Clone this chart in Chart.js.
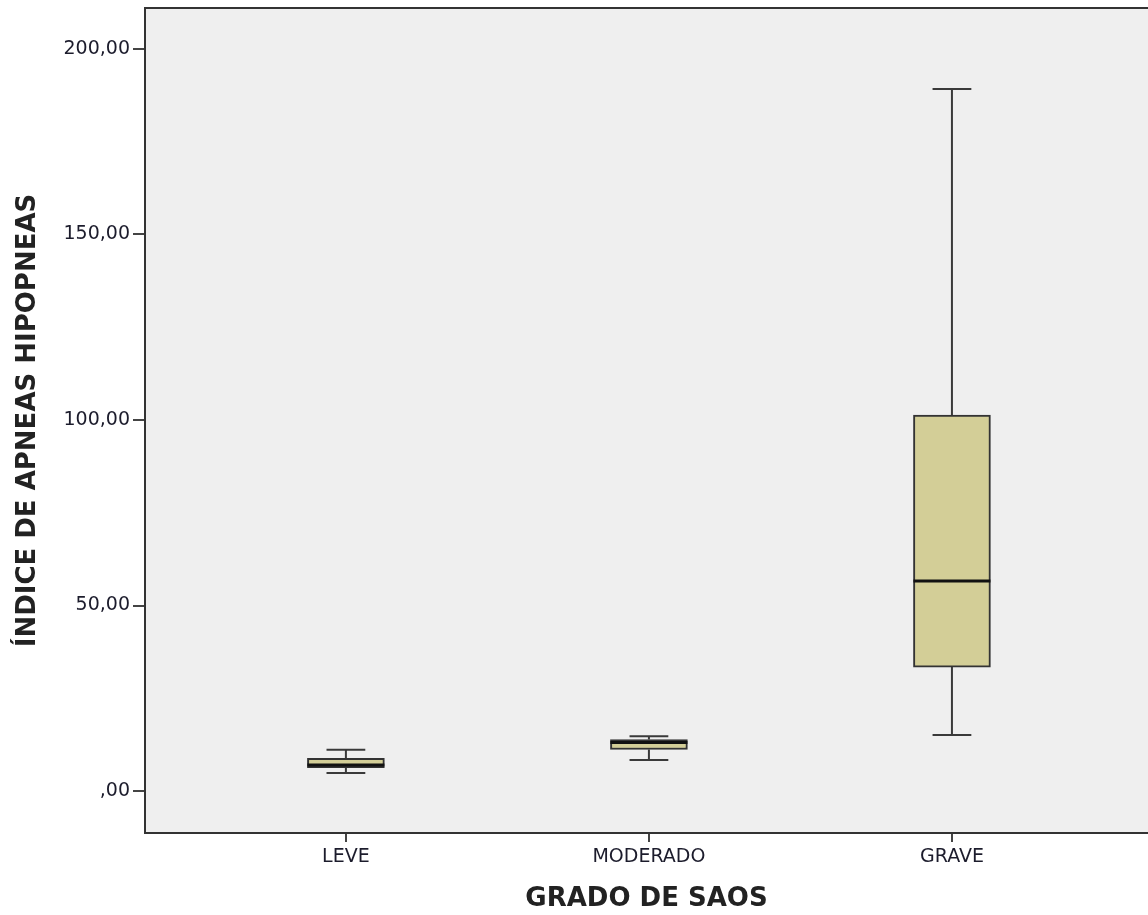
<!DOCTYPE html>
<html>
<head>
<meta charset="utf-8">
<script src="https://cdn.jsdelivr.net/npm/chart.js@4.4.0/dist/chart.umd.min.js"></script>
<style>
  html, body { margin: 0; padding: 0; background: #fff; }
  canvas { display: block; }
</style>
</head>
<body>
<canvas id="boxChart" width="1148" height="915"></canvas>
<script>
// values
const categories = ["LEVE", "MODERADO", "GRAVE"];
const whiskerMin = [4.9, 8.4, 15.1];
const q1 = [6.3, 11.2, 33.4];
const median = [7.0, 13.1, 56.6];
const q3 = [8.8, 13.9, 101.3];
const whiskerMax = [11.1, 14.8, 189.2];
const yTicks = [0, 50, 100, 150, 200];

const capHalf = 0.064;
const boxHalf = 0.127;

// Build segments for whiskers, caps and medians (null points break the line)
const whiskerPts = [];
const medianPts = [];
categories.forEach((c, i) => {
    const x = i + 1;
    whiskerPts.push({ x: x, y: q3[i] }, { x: x, y: whiskerMax[i] }, { x: x, y: null });
    whiskerPts.push({ x: x - capHalf, y: whiskerMax[i] }, { x: x + capHalf, y: whiskerMax[i] }, { x: x, y: null });
    whiskerPts.push({ x: x, y: q1[i] }, { x: x, y: whiskerMin[i] }, { x: x, y: null });
    whiskerPts.push({ x: x - capHalf, y: whiskerMin[i] }, { x: x + capHalf, y: whiskerMin[i] }, { x: x, y: null });
    medianPts.push({ x: x - boxHalf, y: median[i] }, { x: x + boxHalf, y: median[i] }, { x: x, y: null });
});

const boxes = categories.map((c, i) => ({ x: i + 1, y: [q1[i], q3[i]] }));

// Grey plot background + top frame line
const plotBg = {
    id: "plotBg",
    beforeDraw(chart) {
        const { ctx, chartArea } = chart;
        ctx.save();
        ctx.fillStyle = "#efefef";
        ctx.fillRect(chartArea.left, chartArea.top, chartArea.right - chartArea.left, chartArea.bottom - chartArea.top);
        ctx.strokeStyle = "#333";
        ctx.lineWidth = 2;
        ctx.beginPath();
        ctx.moveTo(chartArea.left, chartArea.top);
        ctx.lineTo(chartArea.right, chartArea.top);
        ctx.stroke();
        ctx.restore();
    }
};

function formatTick(v) {
    if (v === 0) return ",00";
    return v.toFixed(2).replace(".", ",");
}

new Chart(document.getElementById("boxChart"), {
    data: {
        datasets: [
            {
                type: "line",
                data: whiskerPts,
                borderColor: "#3a3a3a",
                borderWidth: 2,
                pointRadius: 0,
                spanGaps: false,
                order: 2
            },
            {
                type: "bar",
                data: boxes,
                backgroundColor: "#d3ce97",
                borderColor: "#333",
                borderWidth: 2,
                borderSkipped: false,
                barThickness: 77,
                order: 1
            },
            {
                type: "line",
                data: medianPts,
                borderColor: "#111",
                borderWidth: 3,
                pointRadius: 0,
                spanGaps: false,
                order: 0
            }
        ]
    },
    options: {
        responsive: false,
        animation: false,
        layout: { padding: { top: 8, right: 0, left: 0, bottom: 0 } },
        plugins: {
            legend: { display: false },
            tooltip: { enabled: false }
        },
        scales: {
            x: {
                type: "linear",
                offset: false,
                min: 0.337,
                max: 3.647,
                afterBuildTicks: (scale) => { scale.ticks = categories.map((c, i) => ({ value: i + 1 })); },
                afterFit: (scale) => { scale.height = 82; scale.paddingLeft = 0; scale.paddingRight = 0; },
                grid: { offset: false, drawOnChartArea: false, drawTicks: true, tickLength: 9, color: "#444", lineWidth: 2 },
                border: { display: true, color: "#333", width: 2 },
                ticks: {
                    color: "#1c1c2c",
                    font: { family: "DejaVu Sans", size: 19 },
                    padding: 4,
                    maxRotation: 0,
                    callback: (v) => categories[v - 1]
                },
                title: {
                    display: true,
                    text: "GRADO DE SAOS",
                    color: "#222",
                    font: { family: "DejaVu Sans", size: 26, weight: "bold" },
                    padding: { top: 0, bottom: 0 }
                }
            },
            y: {
                min: -11.3,
                max: 211,
                afterBuildTicks: (scale) => { scale.ticks = yTicks.map(v => ({ value: v })); },
                afterFit: (scale) => { scale.width = 145; scale.paddingTop = 0; scale.paddingBottom = 0; },
                grid: { drawOnChartArea: false, drawTicks: true, tickLength: 12, color: "#444", lineWidth: 2 },
                border: { display: true, color: "#333", width: 2 },
                ticks: {
                    color: "#1c1c2c",
                    font: { family: "DejaVu Sans", size: 19 },
                    padding: 3,
                    callback: (v) => formatTick(v)
                },
                title: {
                    display: true,
                    text: "ÍNDICE DE APNEAS HIPOPNEAS",
                    color: "#222",
                    font: { family: "DejaVu Sans", size: 26, weight: "bold" },
                    padding: { top: 13, bottom: 0 }
                }
            }
        }
    },
    plugins: [plotBg]
});
</script>
</body>
</html>
